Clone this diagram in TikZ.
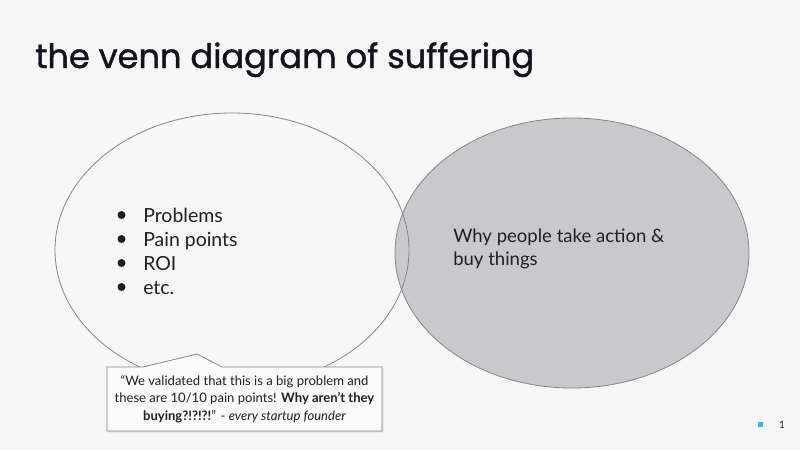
\documentclass[tikz,border=0pt]{standalone}
\usepackage{fontspec}
\setmainfont{Lato}
\newfontfamily\titlefont[FakeBold=1.2]{Poppins}
\usetikzlibrary{positioning,shadows}
\definecolor{slidebg}{HTML}{F7F7F7}
\definecolor{rightgray}{HTML}{C9C8CD}
\definecolor{ringgray}{HTML}{858585}
\definecolor{titleink}{HTML}{13131F}
\definecolor{txtgray}{HTML}{1F1F1F}
\definecolor{callfill}{HTML}{FBFBFB}
\definecolor{tealsq}{HTML}{33B5D5}
\tikzset{
  bodytext/.style={font=\fontsize{14.6}{18}\selectfont, text=txtgray, anchor=base west, inner sep=0pt},
  venn/.style={draw=ringgray, line width=0.6pt},
}
\begin{document}
\begin{tikzpicture}[x=0.75pt,y=-0.75pt]
\fill[slidebg] (0,0) rectangle (800,450);
\useasboundingbox (0,0) rectangle (800,450);
% title
\node[font=\titlefont\fontsize{25.2}{30}\selectfont, text=titleink, anchor=base west, inner sep=0pt] (title) at (35,68) {the venn diagram of suffering};
% the two sets
\draw[venn, fill=rightgray] (572,253) ellipse [x radius=177, y radius=135];
\draw[venn] (232,250) ellipse [x radius=177, y radius=137];
% left set
\foreach \txt [count=\i] in {Problems, Pain points, ROI, etc.} {
  \node[bodytext] (item\i) at (143,198+24*\i) {\txt};
  \fill[txtgray] (121.5,191+24*\i) circle [radius=4];
}
% right set
\node[bodytext, font=\fontsize{13.9}{18}\selectfont] (why) at (453,242) {Why people take action \&};
\node[bodytext, font=\fontsize{13.9}{18}\selectfont] (buy) at (453,265) {buy things};
% quote callout
\draw[draw=ringgray, fill=callfill, line width=0.6pt,
  drop shadow={shadow xshift=1pt, shadow yshift=-1pt, opacity=0.25}]
  (107,367) -- (143,367) -- (197,354) -- (222,367) -- (382,367)
  -- (382,431) -- (107,431) -- cycle;
\node[font=\fontsize{9.8}{13.2}\selectfont, text=txtgray, align=center, anchor=base, inner sep=0pt] (quote) at (244.5,420.5)
  {“We validated that this is a big problem and\\
   these are 10/10 pain points! \textbf{Why aren’t they}\\
   \textbf{buying?!?!?!}” - \textit{every startup founder}};
% page number
\fill[tealsq] (758,422) rectangle (763,427);
\node[font=\fontsize{7.5}{9}\selectfont, text=txtgray, inner sep=0pt] (pagenum) at (782,424.5) {1};
\end{tikzpicture}
\end{document}
